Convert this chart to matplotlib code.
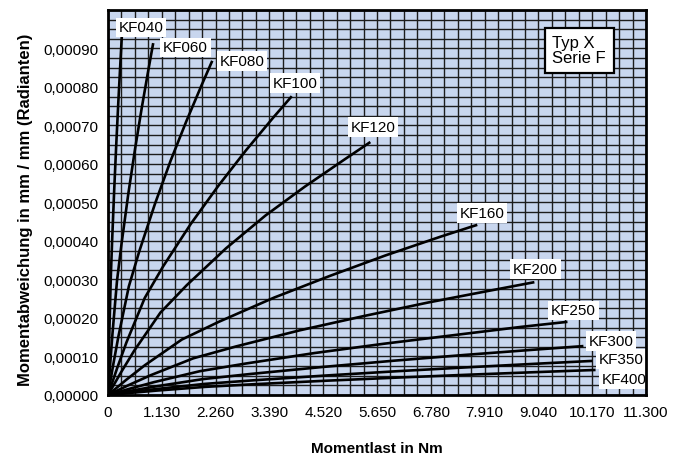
import numpy as np
import matplotlib
matplotlib.use('Agg')
import matplotlib.pyplot as plt
from matplotlib.ticker import MultipleLocator

plt.rcParams['font.family'] = ['Liberation Sans', 'DejaVu Sans']

# ---------------------------------------------------------------------------
# data (x in Nm, y in rad/mm)
kf040_x = [0, 14.5, 29, 58, 87, 130.5, 174, 217.5, 261, 290]
kf040_y = [0, 0.0000837, 0.000163, 0.000302, 0.0004, 0.000532, 0.000651, 0.000761, 0.000864, 0.00093]
kf060_x = [0, 47.5, 95, 190, 285, 427.5, 570, 712.5, 855, 950]
kf060_y = [0, 0.0000823, 0.00016, 0.000297, 0.000393, 0.000523, 0.00064, 0.000748, 0.000849, 0.000914]
kf080_x = [0, 109.5, 219, 438, 657, 985.5, 1314, 1642.5, 1971, 2190]
kf080_y = [0, 0.0000781, 0.000152, 0.000282, 0.000373, 0.000496, 0.000608, 0.00071, 0.000806, 0.000868]
kf100_x = [0, 193, 386, 772, 1158, 1737, 2316, 2895, 3474, 3860]
kf100_y = [0, 0.0000698, 0.000136, 0.000252, 0.000334, 0.000444, 0.000543, 0.000635, 0.000721, 0.000776]
kf120_x = [0, 275.5, 551, 1102, 1653, 2479.5, 3306, 4132.5, 4959, 5510]
kf120_y = [0, 0.0000591, 0.000115, 0.000214, 0.000285, 0.000381, 0.000466, 0.000541, 0.000611, 0.000657]
kf160_x = [0, 387.8, 775.6, 1551, 2327, 3490, 4654, 5817, 6980, 7756]
kf160_y = [0, 0.0000398, 0.0000774, 0.000144, 0.00019, 0.000253, 0.000309, 0.000362, 0.000411, 0.000442]
kf200_x = [0, 448, 896, 1791, 2687, 4030, 5373, 6716, 8060, 8955]
kf200_y = [0, 0.0000264, 0.0000513, 0.0000952, 0.000126, 0.000168, 0.000205, 0.00024, 0.000272, 0.000293]
kf250_x = [0, 482.5, 965, 1930, 2895, 4342.5, 5790, 7237.5, 8685, 9650]
kf250_y = [0, 0.0000171, 0.0000333, 0.0000618, 0.0000817, 0.000109, 0.000133, 0.000155, 0.000177, 0.00019]
kf300_x = [0, 499, 999, 1997, 2996, 4493, 5991, 7489, 8987, 9985]
kf300_y = [0, 0.0000114, 0.0000222, 0.0000413, 0.0000546, 0.0000726, 0.0000889, 0.000104, 0.000118, 0.000127]
kf350_x = [0, 509, 1018, 2035, 3053, 4579, 6105, 7631, 9158, 10175]
kf350_y = [0, 0.00000797, 0.0000155, 0.0000288, 0.0000381, 0.0000506, 0.000062, 0.0000724, 0.0000822, 0.0000885]
kf400_x = [0, 512, 1024, 2048, 3072, 4608, 6144, 7680, 9216, 10240]
kf400_y = [0, 0.00000585, 0.0000114, 0.0000211, 0.000028, 0.0000372, 0.0000455, 0.0000532, 0.0000604, 0.000065]

names = ['KF040', 'KF060', 'KF080', 'KF100', 'KF120', 'KF160',
         'KF200', 'KF250', 'KF300', 'KF350', 'KF400']
xs = [kf040_x, kf060_x, kf080_x, kf100_x, kf120_x, kf160_x,
      kf200_x, kf250_x, kf300_x, kf350_x, kf400_x]
ys = [kf040_y, kf060_y, kf080_y, kf100_y, kf120_y, kf160_y,
      kf200_y, kf250_y, kf300_y, kf350_y, kf400_y]

x_ticks = [0, 1130, 2260, 3390, 4520, 5650, 6780, 7910, 9040, 10170, 11300]
x_ticklabels = ['0', '1.130', '2.260', '3.390', '4.520', '5.650', '6.780',
                '7.910', '9.040', '10.170', '11.300']
y_ticks = [0, 0.0001, 0.0002, 0.0003, 0.0004, 0.0005, 0.0006, 0.0007, 0.0008, 0.0009]
y_ticklabels = ['0,00000', '0,00010', '0,00020', '0,00030', '0,00040', '0,00050',
                '0,00060', '0,00070', '0,00080', '0,00090']

# label anchor (centre of white box), in data coords
label_pos = [(700, 0.000955), (1630, 0.000903), (2820, 0.000867), (3930, 0.00081),
             (5560, 0.000696), (7860, 0.000473), (8980, 0.000327), (9780, 0.000220),
             (10570, 0.000140), (10780, 0.0000935), (10840, 0.0000415)]

# ---------------------------------------------------------------------------
fig = plt.figure(figsize=(6.74, 4.64), dpi=100)
ax = fig.add_axes([0.1602, 0.1466, 0.7983, 0.8297])
ax.set_facecolor('#c8d6ee')

ax.set_xlim(0, 11300)
ax.set_ylim(0, 0.001)
ax.xaxis.set_minor_locator(MultipleLocator(282.5))
ax.yaxis.set_minor_locator(MultipleLocator(0.000025))
ax.grid(True, which='both', color='#1c1c1c', linewidth=1.0, zorder=1)
ax.set_axisbelow(True)

for x, y in zip(xs, ys):
    ax.plot(x, y, color='black', lw=1.9, solid_capstyle='butt', zorder=3)

for name, (lx, ly) in zip(names, label_pos):
    ax.text(lx, ly, name, ha='center', va='center', fontsize=11, zorder=5,
            bbox=dict(boxstyle='square,pad=0.18', fc='white', ec='none'))

ax.text(0.826, 0.895, 'Typ X\nSerie F', transform=ax.transAxes, fontsize=12,
        ha='left', va='center', linespacing=1.0, zorder=5,
        bbox=dict(boxstyle='square,pad=0.45', fc='white', ec='black', lw=1.6))

ax.set_xticks(x_ticks)
ax.set_xticklabels(x_ticklabels)
ax.set_yticks(y_ticks)
ax.set_yticklabels(y_ticklabels)
ax.tick_params(which='both', length=0, labelsize=11, pad=7)

for s in ax.spines.values():
    s.set_linewidth(2.0)
    s.set_zorder(6)

ax.set_xlabel('Momentlast in Nm', fontsize=11, fontweight='bold', labelpad=16)
ax.set_ylabel('Momentabweichung in mm / mm (Radianten)', fontsize=12,
              fontweight='bold')
ax.yaxis.set_label_coords(-0.14, 0.483)

fig.savefig('out.png', dpi=100)
